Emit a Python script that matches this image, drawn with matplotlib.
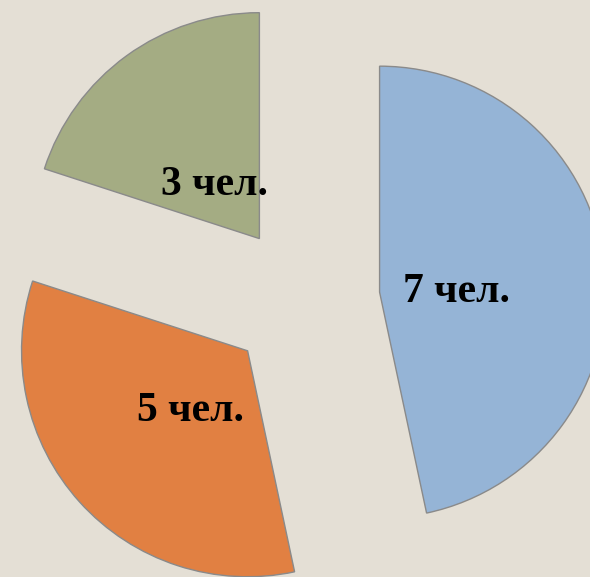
import matplotlib.pyplot as plt
from matplotlib.transforms import offset_copy

# данные
labels = ['7 чел.', '5 чел.', '3 чел.']
values = [7, 5, 3]
colors = ['#95b4d6', '#e18042', '#a4ac83']
bg = '#e4dfd5'

fig = plt.figure(figsize=(5.9, 5.77), dpi=100)
fig.patch.set_facecolor(bg)
ax = fig.add_axes([0, 0, 1, 1])
ax.set_facecolor(bg)

total = sum(values)
wedges, texts, autotexts = ax.pie(
    values,
    colors=colors,
    startangle=90,
    counterclock=False,
    explode=[0.336] * 3,
    autopct=lambda p: f"{round(p * total / 100)} чел.",
    pctdistance=0.34,
    wedgeprops=dict(edgecolor='#8a8a8a', linewidth=1.0),
    textprops=dict(family='Liberation Serif', fontweight='bold',
                   fontsize=30, color='black'),
)

# подписи чуть ниже
for t in autotexts:
    t.set_transform(offset_copy(ax.transData, fig=fig, x=0, y=-6, units='points'))

# обрезаем картинку как в оригинале
ax.set_aspect('auto')
ax.set_xlim(-1.345, 1.265)
ax.set_ylim(-1.226, 1.328)
ax.axis('off')

fig.savefig('out.png', dpi=100, facecolor=bg)
